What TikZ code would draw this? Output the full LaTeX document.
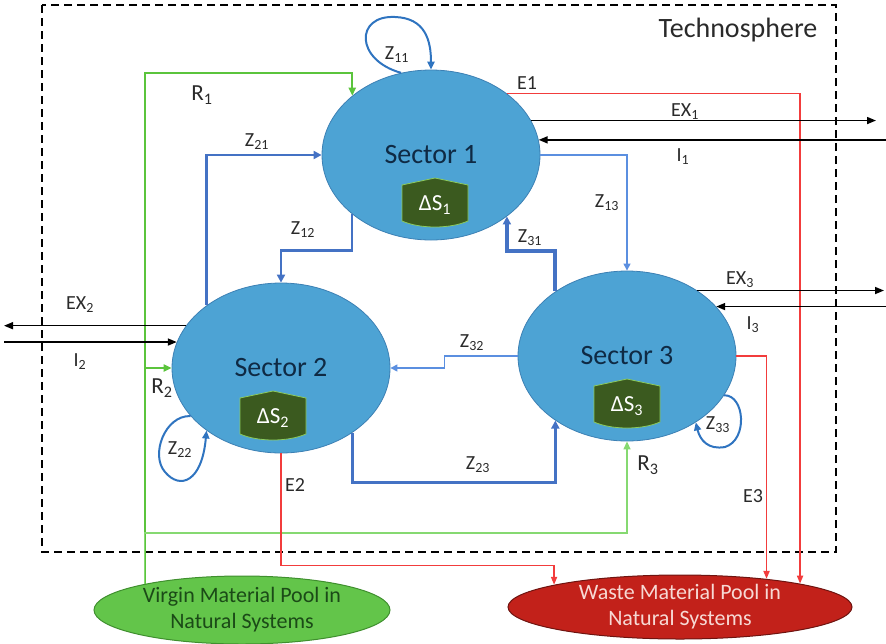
\documentclass[tikz,border=0pt]{standalone}
\usepackage{fontspec}
\setmainfont{Carlito}
\usetikzlibrary{shapes.geometric,arrows.meta}
\definecolor{secfill}{HTML}{4DA3D4}
\definecolor{secedge}{HTML}{3C80B4}
\definecolor{sectext}{HTML}{0F2A44}
\definecolor{zblue}{HTML}{4472C4}
\definecolor{zloop}{HTML}{2F74C0}
\definecolor{zlight}{HTML}{5B8FE0}
\definecolor{ered}{HTML}{F23C3C}
\definecolor{rgreen}{HTML}{5BC43C}
\definecolor{rlight}{HTML}{86D971}
\definecolor{vpfill}{HTML}{63C54A}
\definecolor{vpedge}{HTML}{3F8F2E}
\definecolor{vptext}{HTML}{1B4A17}
\definecolor{wpfill}{HTML}{C2211A}
\definecolor{wpedge}{HTML}{6E1410}
\definecolor{wptext}{HTML}{F7D9D4}
\definecolor{stockfill}{HTML}{3B5A1F}
\definecolor{stockedge}{HTML}{8CCB5E}
\definecolor{lbl}{HTML}{2A2A2A}

\begin{document}
\begin{tikzpicture}[x=1pt,y=-1pt,
  sector/.style={ellipse,draw=secedge,line width=0.8pt,fill=secfill,minimum width=218pt,minimum height=170pt,inner sep=0pt,text=sectext,font=\fontsize{28}{30}\selectfont},
  pool/.style={ellipse,line width=1pt,inner sep=0pt,align=center,font=\fontsize{22}{26}\selectfont},
  flowlbl/.style={text=lbl,inner sep=1pt,font=\fontsize{20}{22}\selectfont},
  rlbl/.style={text=lbl,inner sep=1pt,font=\fontsize{23}{25}\selectfont},
  stocklbl/.style={text=white,inner sep=0pt,font=\fontsize{23}{25}\selectfont},
  zflow/.style={draw=zblue,line width=2.4pt,-{Triangle[length=8pt,width=8pt]}},
  zthin/.style={draw=zlight,line width=1.1pt,-{Triangle[length=7pt,width=7pt]}},
  zcurl/.style={draw=zloop,line width=2pt,-{Triangle[length=8pt,width=7pt]}},
  eflow/.style={draw=ered,line width=1.8pt,-{Triangle[length=8pt,width=6pt]}},
  rflow/.style={draw=rgreen,line width=2pt,-{Triangle[length=8pt,width=7pt]}},
  rthin/.style={draw=rlight,line width=1.3pt,-{Triangle[length=8pt,width=7pt]}},
  xflow/.style={draw=black,line width=1.6pt,-{Triangle[length=9pt,width=7pt]}},
  stock/.pic={\draw[draw=stockedge,line width=0.8pt,fill=stockfill] (-33,-18) -- (0,-25) -- (33,-18) -- (33,18) .. controls (15,26) and (-15,26) .. (-33,18) -- cycle;}
]
\useasboundingbox (0,0) rectangle (886,643);
\draw[line width=1.8pt,dash pattern=on 8pt off 5pt] (42,5) rectangle (836,552);
\node[text=lbl,font=\fontsize{28}{30}\selectfont] (techno) at (738,30) {Technosphere};

\node[sector] (s1) at (431,155) {Sector 1};
\node[sector] (s2) at (281,368) {Sector 2};
\node[sector] (s3) at (627,356) {Sector 3};
\pic at (435,203) {stock};
\pic at (273,416) {stock};
\pic at (627,404) {stock};
\node[stocklbl] (ds1) at (435,205) {ΔS\textsubscript{1}};
\node[stocklbl] (ds2) at (273,418) {ΔS\textsubscript{2}};
\node[stocklbl] (ds3) at (627,406) {ΔS\textsubscript{3}};

\node[pool,draw=vpedge,fill=vpfill,text=vptext,minimum width=296pt,minimum height=68pt] (vp) at (242,610) {Virgin Material Pool in\\Natural Systems};
\node[pool,draw=wpedge,fill=wpfill,text=wptext,minimum width=344pt,minimum height=64pt] (wp) at (680,607) {Waste Material Pool in\\Natural Systems};

\coordinate (rimL) at (4,0);
\coordinate (rimR) at (876,0);
\coordinate (rimE) at (884,0);
\coordinate (rimRR) at (886,0);

\draw[zcurl] (s1.110) .. controls (355,60) and (355,15) .. (395,17) .. controls (425,18) and (431,40) .. (s1.north);
\draw[zflow] (s2.140) |- (s1.west);
\draw[zflow] (s1.217) -- ++(0,36) -| (s2.north);
\draw[zflow,line width=4pt] (s3.138) -- ++(0,-40) -| (s1.321);
\draw[zthin] (s1.east) -| (s3.north);
\draw[zthin] (s3.west) -- ++(-73,0) -- ++(0,12) -- (s2.east);
\draw[zflow,line width=3pt] (s2.318) -- ++(0,50) -| (s3.222);
\draw[zcurl] (s2.208) .. controls (165,415) and (150,455) .. (165,472) .. controls (180,490) and (202,482) .. (s2.220);
\draw[zcurl] (s3.338) .. controls (745,395) and (748,440) .. (725,447) .. controls (708,450) and (700,440) .. (s3.316);

\draw[rflow] (vp.165) -- ++(0,-511) -| (s1.143);
\draw[rflow] (vp.165 |- s2.west) -- (s2.west);
\draw[rthin] (vp.165) -- ++(0,-51) -| (s3.south);

\draw[eflow] (s1.39) -| (wp.11);
\draw[eflow] (s2.south) -- ++(0,112) -| (wp.170);
\draw[eflow] (s3.east) -| (wp.18);

\draw[xflow] (s1.19) -- (s1.19 -| rimR);
\draw[xflow] (s1.8 -| rimRR) -- (s1.8);
\draw[xflow] (s3.43) -- (s3.43 -| rimE);
\draw[xflow] (s3.29 -| rimRR) -- (s3.29);
\draw[xflow] (s2.156) -- (s2.156 -| rimL);
\draw[xflow] (s2.166 -| rimL) -- (s2.166);

\node[flowlbl] (lz11) at (397,55) {Z\textsubscript{11}};
\node[flowlbl] (lz21) at (257,142) {Z\textsubscript{21}};
\node[flowlbl] (lz12) at (303,230) {Z\textsubscript{12}};
\node[flowlbl] (lz31) at (530,238) {Z\textsubscript{31}};
\node[flowlbl] (lz13) at (607,203) {Z\textsubscript{13}};
\node[flowlbl] (lz32) at (472,343) {Z\textsubscript{32}};
\node[flowlbl] (lz23) at (478,465) {Z\textsubscript{23}};
\node[flowlbl] (lz22) at (180,450) {Z\textsubscript{22}};
\node[flowlbl] (lz33) at (718,425) {Z\textsubscript{33}};
\node[rlbl] (lr1) at (202,95) {R\textsubscript{1}};
\node[rlbl] (lr2) at (162,388) {R\textsubscript{2}};
\node[rlbl] (lr3) at (648,465) {R\textsubscript{3}};
\node[flowlbl] (le1) at (527,83) {E1};
\node[flowlbl] (le2) at (295,485) {E2};
\node[flowlbl] (le3) at (753,496) {E3};
\node[flowlbl] (lex1) at (685,112) {EX\textsubscript{1}};
\node[flowlbl] (li1) at (683,157) {I\textsubscript{1}};
\node[flowlbl] (lex3) at (740,280) {EX\textsubscript{3}};
\node[flowlbl] (li3) at (753,325) {I\textsubscript{3}};
\node[flowlbl] (lex2) at (80,305) {EX\textsubscript{2}};
\node[flowlbl] (li2) at (80,362) {I\textsubscript{2}};
\end{tikzpicture}
\end{document}
